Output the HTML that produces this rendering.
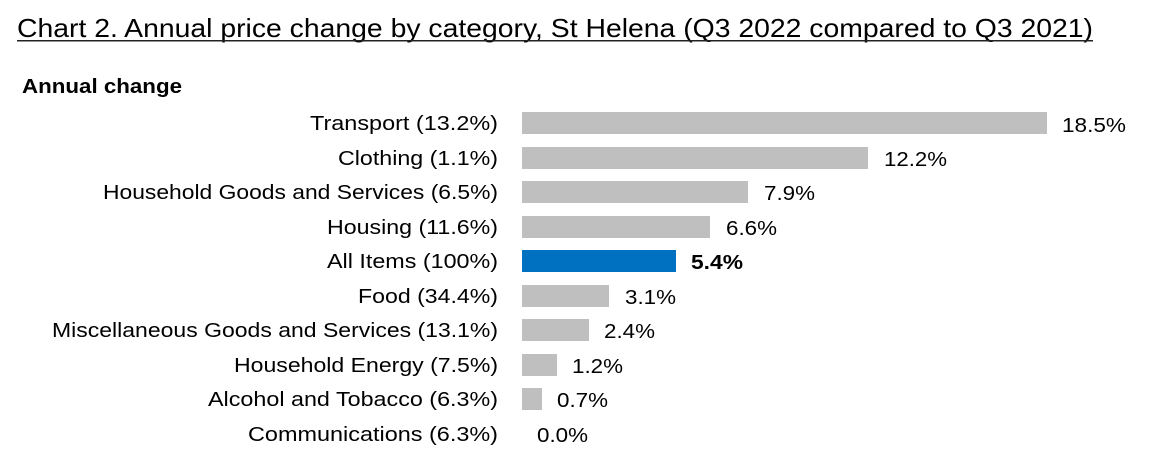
<!DOCTYPE html>
<html><head><meta charset="utf-8"><style>
html,body{margin:0;padding:0;background:#fff;width:1150px;height:465px;overflow:hidden}
svg{display:block}
text{font-family:"Liberation Sans",Arial,sans-serif;fill:#000}
</style></head><body>
<svg width="1150" height="465" viewBox="0 0 1150 465">
<text x="17" y="37" font-size="26" textLength="1076" lengthAdjust="spacingAndGlyphs" fill="#222">Chart 2. Annual price change by category, St Helena (Q3 2022 compared to Q3 2021)</text>
<rect x="17" y="40" width="1076" height="1.5" fill="#222"/>
<text x="22" y="93" font-size="20" font-weight="bold" textLength="160" lengthAdjust="spacingAndGlyphs">Annual change</text>
<g font-size="20" text-anchor="end">
<text x="498" y="130" textLength="188" lengthAdjust="spacingAndGlyphs">Transport (13.2%)</text>
<text x="498" y="165" textLength="160" lengthAdjust="spacingAndGlyphs">Clothing (1.1%)</text>
<text x="498" y="199" textLength="395" lengthAdjust="spacingAndGlyphs">Household Goods and Services (6.5%)</text>
<text x="498" y="234" textLength="171" lengthAdjust="spacingAndGlyphs">Housing (11.6%)</text>
<text x="498" y="268" textLength="171" lengthAdjust="spacingAndGlyphs">All Items (100%)</text>
<text x="498" y="303" textLength="140" lengthAdjust="spacingAndGlyphs">Food (34.4%)</text>
<text x="498" y="337" textLength="446" lengthAdjust="spacingAndGlyphs">Miscellaneous Goods and Services (13.1%)</text>
<text x="498" y="372" textLength="264" lengthAdjust="spacingAndGlyphs">Household Energy (7.5%)</text>
<text x="498" y="406" textLength="290" lengthAdjust="spacingAndGlyphs">Alcohol and Tobacco (6.3%)</text>
<text x="498" y="441" textLength="250" lengthAdjust="spacingAndGlyphs">Communications (6.3%)</text>
</g>
<g fill="#bfbfbf">
<rect x="522" y="112" width="525" height="22"/>
<rect x="522" y="147" width="346" height="22"/>
<rect x="522" y="181" width="226" height="22"/>
<rect x="522" y="216" width="188" height="22"/>
<rect x="522" y="250" width="154" height="22" fill="#0070c0"/>
<rect x="522" y="285" width="87" height="22"/>
<rect x="522" y="319" width="67" height="22"/>
<rect x="522" y="354" width="35" height="22"/>
<rect x="522" y="388" width="20" height="22"/>
</g>
<g font-size="20" lengthAdjust="spacingAndGlyphs">
<text x="1062" y="132" textLength="64" lengthAdjust="spacingAndGlyphs">18.5%</text>
<text x="884" y="166" textLength="63" lengthAdjust="spacingAndGlyphs">12.2%</text>
<text x="764" y="200" textLength="51" lengthAdjust="spacingAndGlyphs">7.9%</text>
<text x="726" y="235" textLength="51" lengthAdjust="spacingAndGlyphs">6.6%</text>
<text x="691" y="269" font-weight="bold" textLength="52" lengthAdjust="spacingAndGlyphs">5.4%</text>
<text x="625" y="304" textLength="51" lengthAdjust="spacingAndGlyphs">3.1%</text>
<text x="604" y="338" textLength="51" lengthAdjust="spacingAndGlyphs">2.4%</text>
<text x="572" y="373" textLength="51" lengthAdjust="spacingAndGlyphs">1.2%</text>
<text x="557" y="407" textLength="51" lengthAdjust="spacingAndGlyphs">0.7%</text>
<text x="537" y="442" textLength="51" lengthAdjust="spacingAndGlyphs">0.0%</text>
</g>
</svg>
</body></html>
